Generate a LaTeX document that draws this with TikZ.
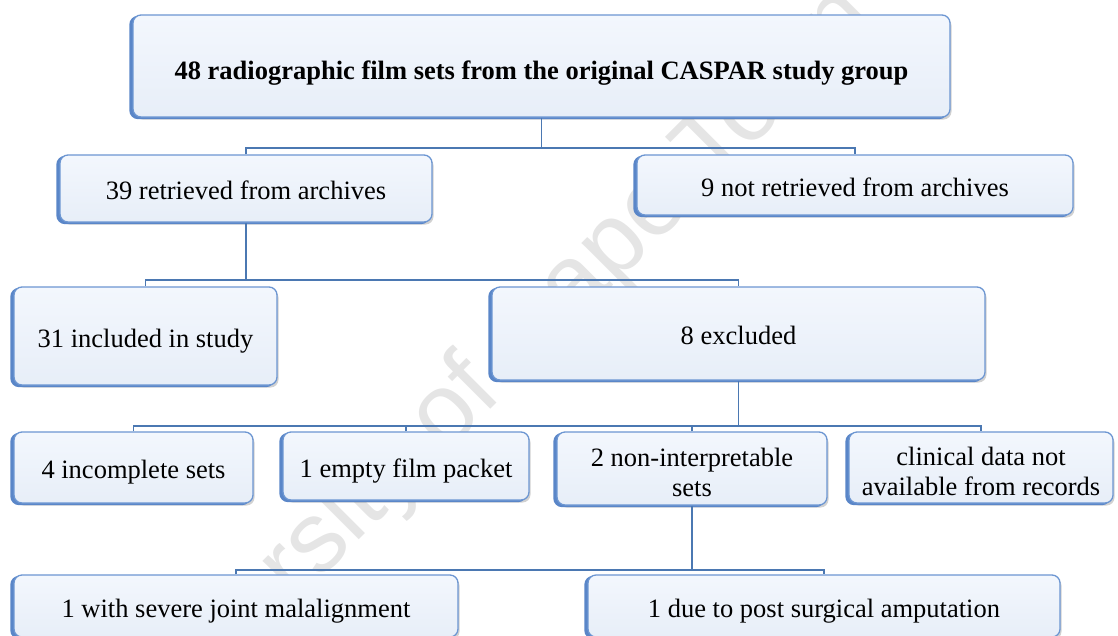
\documentclass[tikz,border=0pt]{standalone}
\usepackage{fontspec}
\setmainfont{Liberation Serif}
\newfontfamily\wmfont{Liberation Sans}
\usetikzlibrary{shadows}
\definecolor{boxblue}{HTML}{6C96D2}
\definecolor{boxdark}{HTML}{5A86C8}
\definecolor{filltop}{HTML}{F3F7FD}
\definecolor{fillbot}{HTML}{E7EEF8}
\definecolor{linecol}{HTML}{4B78B2}
\tikzset{
  box/.style={rounded corners=8pt, draw=boxblue, line width=1.3pt,
    top color=filltop, bottom color=fillbot, align=center,
    font=\fontsize{26.5}{30}\selectfont, inner sep=0pt,
    text height=22.6pt, text depth=0pt,
    general shadow={shadow xshift=1.5pt, shadow yshift=-2.5pt, fill=black, opacity=0.18},
    copy shadow={shadow xshift=-3pt, shadow yshift=-1.5pt, fill=boxdark, draw=boxdark}},
  twoline/.style={text height=56.6pt},
  conn/.style={draw=linecol, line width=1.6pt},
}
\begin{document}
\begin{tikzpicture}[x=1pt, y=-1pt]
\useasboundingbox (0,0) rectangle (1118,635);
\clip (0,0) rectangle (1118,635);
\fill[white] (0,0) rectangle (1118,635);

% watermark (behind everything)
\node[rotate=45, text=black, opacity=0.1, font=\wmfont\fontsize{100}{104}\selectfont] (wm) at (478,385) {University of Cape Town};

% junction points of the connectors
\coordinate (j1) at (541.5,148);
\coordinate (j2) at (246,280);
\coordinate (j3) at (738.5,426);
\coordinate (j4) at (692,570);

\node[box, minimum width=817pt, minimum height=102pt, text height=26.6pt, font=\fontsize{26.5}{30}\selectfont\bfseries] (top) at (541.5,66) {48 radiographic film sets from the original CASPAR study group};
\node[box, minimum width=372pt, minimum height=67pt] (b39) at (246,188.5) {39 retrieved from archives};
\node[box, minimum width=436pt, minimum height=60pt] (b9) at (855,185) {9 not retrieved from archives};
\node[box, minimum width=263pt, minimum height=98pt] (b31) at (145.5,336) {31 included in study};
\node[box, minimum width=493pt, minimum height=93pt] (b8) at (738.5,333.5) {8 excluded};
\node[box, minimum width=239pt, minimum height=71pt] (b4) at (133.5,467.5) {4 incomplete sets};
\node[box, minimum width=246pt, minimum height=68pt] (b1) at (406,466) {1 empty film packet};
\node[box, twoline, minimum width=270pt, minimum height=73pt] (b2) at (692,468.5) {2 non-interpretable\\sets};
\node[box, twoline, minimum width=264pt, minimum height=71pt] (bc) at (981,467.5) {clinical data not\\available from records};
\node[box, minimum width=444pt, minimum height=62pt] (bs) at (236,606) {1 with severe joint malalignment};
\node[box, minimum width=472pt, minimum height=62pt] (bd) at (824,606) {1 due to post surgical amputation};

\draw[conn] (top.south) -- (j1);
\draw[conn] (b39.north) -- (b39.north |- j1) -- (b9.north |- j1) -- (b9.north);
\draw[conn] (b39.south) -- (j2);
\draw[conn] (b31.north) -- (b31.north |- j2) -- (b8.north |- j2) -- (b8.north);
\draw[conn] (b8.south) -- (j3);
\draw[conn] (b4.north) -- (b4.north |- j3) -- (bc.north |- j3) -- (bc.north);
\draw[conn] (b1.north) -- (b1.north |- j3);
\draw[conn] (b2.north) -- (b2.north |- j3);
\draw[conn] (b2.south) -- (j4);
\draw[conn] (bs.north) -- (bs.north |- j4) -- (bd.north |- j4) -- (bd.north);
\end{tikzpicture}
\end{document}
